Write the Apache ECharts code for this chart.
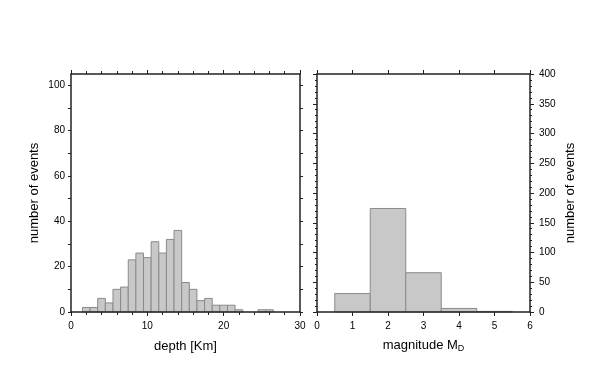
<!DOCTYPE html>
<html>
<head>
<meta charset="utf-8">
<script src="https://cdn.jsdelivr.net/npm/echarts@6/dist/echarts.min.js"></script>
<style>
  html, body { margin: 0; padding: 0; background: #fff; }
  #chart { width: 602px; height: 383px; }
</style>
</head>
<body>
<div id="chart"></div>
<script>
// depth histogram, 1 km bins (centre values)
const depthBins = [2, 3, 4, 5, 6, 7, 8, 9, 10, 11, 12, 13, 14, 15, 16, 17, 18, 19, 20, 21, 22, 23, 24, 25, 26];
const depthCounts = [2, 2, 6, 4, 10, 11, 23, 26, 24, 31, 26, 32, 36, 13, 10, 5, 6, 3, 3, 3, 1, 0, 0, 1, 1];
const depthBinWidth = 1;

// magnitude histogram, 1 unit bins
const magBins = [1, 2, 3, 4, 5];
const magCounts = [31, 174, 66, 6, 1];
const magBinWidth = 1;

// tick labels
const depthTicks = [0, 10, 20, 30];
const leftCountLabels = [0, 20, 40, 60, 80, 100];
const leftCountTicks = [0, 10, 20, 30, 40, 50, 60, 70, 80, 90, 100];
const magTicks = [0, 1, 2, 3, 4, 5, 6];

const font = 'Liberation Sans, Arial, Helvetica, sans-serif';
const frameLine = { show: true, onZero: false, lineStyle: { color: '#222', width: 1.5 } };
const labelStyle = { color: '#000', fontFamily: font, fontSize: 10 };
const nameStyle = { color: '#000', fontFamily: font, fontSize: 13 };

function histItem(width) {
  return function (params, api) {
    const c = api.value(0);
    const v = api.value(1);
    if (!v) return null;
    const p0 = api.coord([c - width / 2, v]);
    const p1 = api.coord([c + width / 2, 0]);
    return {
      type: 'rect',
      shape: { x: p0[0], y: p0[1], width: p1[0] - p0[0], height: p1[1] - p0[1] },
      style: { fill: '#c8c8c8', stroke: '#8a8a8a', lineWidth: 1 }
    };
  };
}

const chart = echarts.init(document.getElementById('chart'), null, { renderer: 'canvas' });

chart.setOption({
  animation: false,
  backgroundColor: '#fff',
  grid: [
    { left: 71, top: 74, width: 229, height: 238 },
    { left: 317, top: 74, width: 213, height: 238 }
  ],
  xAxis: [
    {
      gridIndex: 0, type: 'value', position: 'bottom', min: 0, max: 30, interval: 10, z: 5,
      axisLine: frameLine, splitLine: { show: false },
      axisTick: { show: true, length: 4, lineStyle: { color: '#222' } },
      minorTick: { show: true, splitNumber: 5, length: 3, lineStyle: { color: '#222' } },
      axisLabel: Object.assign({ margin: 9, customValues: depthTicks }, labelStyle),
      name: 'depth [Km]', nameLocation: 'middle', nameGap: 28, nameTextStyle: nameStyle
    },
    {
      gridIndex: 0, type: 'value', position: 'top', min: 0, max: 30, interval: 10, z: 5,
      axisLine: frameLine, splitLine: { show: false },
      axisTick: { show: true, length: 4, lineStyle: { color: '#222' } },
      minorTick: { show: true, splitNumber: 5, length: 3, lineStyle: { color: '#222' } },
      axisLabel: { show: false }
    },
    {
      gridIndex: 1, type: 'value', position: 'bottom', min: 0, max: 6, interval: 1, z: 5,
      axisLine: frameLine, splitLine: { show: false },
      axisTick: { show: true, length: 4, lineStyle: { color: '#222' } },
      axisLabel: Object.assign({ margin: 9, customValues: magTicks }, labelStyle),
      name: 'magnitude M{d|D}', nameLocation: 'middle', nameGap: 25,
      nameTextStyle: Object.assign({ rich: { d: { fontFamily: font, fontSize: 9, color: '#000', padding: [7, 0, 0, 0] } } }, nameStyle)
    },
    {
      gridIndex: 1, type: 'value', position: 'top', min: 0, max: 6, interval: 1, z: 5,
      axisLine: frameLine, splitLine: { show: false },
      axisTick: { show: true, length: 4, lineStyle: { color: '#222' } },
      axisLabel: { show: false }
    }
  ],
  yAxis: [
    {
      gridIndex: 0, type: 'value', position: 'left', min: 0, max: 105, interval: 10, z: 5,
      axisLine: frameLine, splitLine: { show: false },
      axisTick: { show: true, length: 3, customValues: leftCountTicks, lineStyle: { color: '#222' } },
      axisLabel: Object.assign({ margin: 6, customValues: leftCountLabels }, labelStyle),
      name: 'number of events', nameLocation: 'middle', nameGap: 30, nameTextStyle: nameStyle
    },
    {
      gridIndex: 0, type: 'value', position: 'right', min: 0, max: 105, interval: 10, z: 5,
      axisLine: frameLine, splitLine: { show: false },
      axisTick: { show: true, length: 3, customValues: leftCountTicks, lineStyle: { color: '#222' } },
      axisLabel: { show: false }
    },
    {
      gridIndex: 1, type: 'value', position: 'left', min: 0, max: 400, interval: 50, z: 5,
      axisLine: frameLine, splitLine: { show: false },
      axisTick: { show: true, length: 4, lineStyle: { color: '#222' } },
      minorTick: { show: true, splitNumber: 5, length: 2, lineStyle: { color: '#222' } },
      axisLabel: { show: false }
    },
    {
      gridIndex: 1, type: 'value', position: 'right', min: 0, max: 400, interval: 50, z: 5,
      axisLine: frameLine, splitLine: { show: false },
      axisTick: { show: true, length: 4, lineStyle: { color: '#222' } },
      minorTick: { show: true, splitNumber: 5, length: 2, lineStyle: { color: '#222' } },
      axisLabel: Object.assign({ margin: 9 }, labelStyle),
      name: 'number of events', nameLocation: 'middle', nameGap: 34, nameTextStyle: nameStyle
    }
  ],
  series: [
    {
      type: 'custom', xAxisIndex: 0, yAxisIndex: 0, z: 2,
      renderItem: histItem(depthBinWidth),
      data: depthBins.map((b, i) => [b, depthCounts[i]])
    },
    {
      type: 'custom', xAxisIndex: 2, yAxisIndex: 2, z: 2,
      renderItem: histItem(magBinWidth),
      data: magBins.map((b, i) => [b, magCounts[i]])
    }
  ]
});
</script>
</body>
</html>
